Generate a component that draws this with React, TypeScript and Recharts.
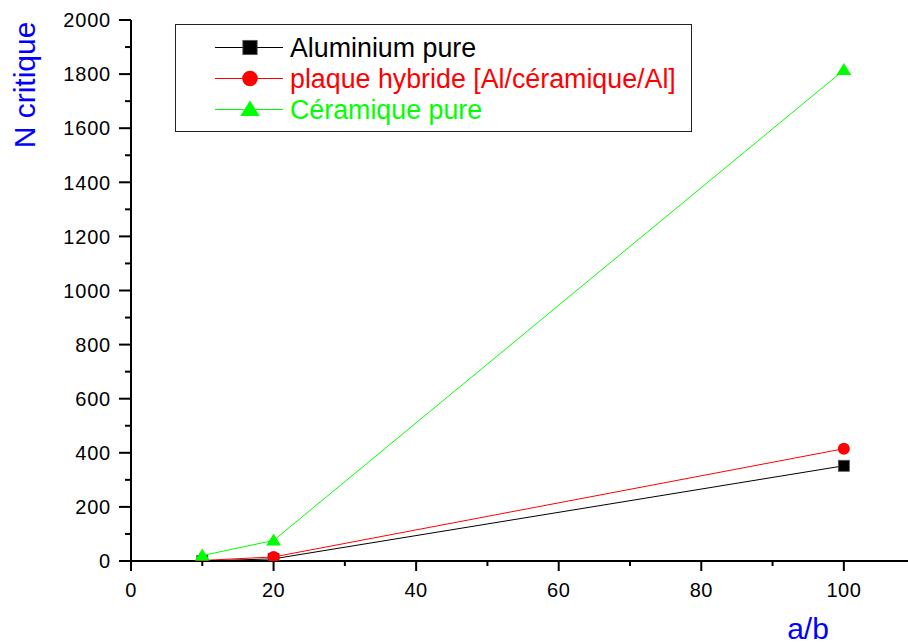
import React from "react";
import { LineChart, Line, XAxis, YAxis, Legend } from "recharts";

// a/b ratios and critical load for each plate type
const ratios = [10, 20, 100];
const aluminium = [0, 8, 352];
const hybride = [2, 15, 415];
const ceramique = [20, 76, 1815];

const xTicks = [0, 10, 20, 30, 40, 50, 60, 70, 80, 90, 100];
const yTicks = [0, 100, 200, 300, 400, 500, 600, 700, 800, 900, 1000, 1100, 1200, 1300, 1400, 1500, 1600, 1700, 1800, 1900, 2000];

const data = ratios.map((r, i) => ({
  ab: r,
  alu: aluminium[i],
  hyb: hybride[i],
  cer: ceramique[i],
}));

const FONT = "Arial, 'Liberation Sans', sans-serif";

const series = [
  { key: "alu", name: "Aluminium pure", color: "#000000", shape: "square" },
  { key: "hyb", name: "plaque hybride [Al/céramique/Al]", color: "#ff0000", shape: "circle" },
  { key: "cer", name: "Céramique pure", color: "#00ff00", shape: "triangle" },
];

// marker drawn at (cx, cy), k scales it
const Marker = ({ cx, cy, shape, color, k = 1 }: { cx: number; cy: number; shape: string; color: string; k?: number }) => {
  if (shape === "square")
    return <rect x={cx - 5.5 * k} y={cy - 5.5 * k} width={11 * k} height={11 * k} fill={color} stroke="#555" strokeWidth={0.8} />;
  if (shape === "circle") return <circle cx={cx} cy={cy} r={6 * k} fill={color} />;
  return (
    <polygon
      points={`${cx},${cy - 7 * k} ${cx + 7.5 * k},${cy + 5 * k} ${cx - 7.5 * k},${cy + 5 * k}`}
      fill={color}
    />
  );
};

const makeDot = (shape: string, color: string) => (props: any) => {
  const { cx, cy, index } = props;
  if (cx == null || cy == null) return <g key={index} />;
  return <Marker key={index} cx={cx} cy={cy} shape={shape} color={color} />;
};

const XTick = (props: any) => {
  const { x, y, payload } = props;
  const major = payload.value % 20 === 0;
  return (
    <g>
      <line x1={x} y1={y} x2={x} y2={y + (major ? 10 : 5)} stroke="#000" strokeWidth={2} />
      {major && (
        <text x={x} y={y + 36} textAnchor="middle" fontSize={20} fontFamily={FONT} fill="#000" letterSpacing={0.5}>
          {payload.value}
        </text>
      )}
    </g>
  );
};

const YTick = (props: any) => {
  const { x, y, payload } = props;
  const major = payload.value % 200 === 0;
  return (
    <g>
      <line x1={x} y1={y} x2={x - (major ? 12 : 6)} y2={y} stroke="#000" strokeWidth={2} />
      {major && (
        <text x={x - 20} y={y + 7.2} textAnchor="end" fontSize={20} fontFamily={FONT} fill="#000" letterSpacing={0.8}>
          {payload.value}
        </text>
      )}
    </g>
  );
};

const LegendBox = () => (
  <div
    style={{
      border: "1.5px solid #222",
      width: 517,
      height: 108,
      boxSizing: "border-box",
      background: "#fff",
    }}
  >
    <svg width={514} height={105} style={{ display: "block" }}>
      {series.map((s, i) => {
        const cy = 22.5 + i * 31;
        return (
          <g key={s.key}>
            <line x1={39} y1={cy} x2={107} y2={cy} stroke={s.color} strokeWidth={1} />
            <Marker cx={74} cy={cy} shape={s.shape} color={s.color} k={1.3} />
            <text x={114} y={cy + 9.5} fontSize={26.8} fontFamily={FONT} fill={s.color}>
              {s.name}
            </text>
          </g>
        );
      })}
    </svg>
  </div>
);

export default function App() {
  return (
    <div style={{ position: "absolute", left: 0, top: 0, width: 908, height: 644, background: "#fff" }}>
      <LineChart width={908} height={644} data={data} margin={{ top: 20, right: 0, bottom: 53, left: 71 }}>
        <XAxis
          dataKey="ab"
          type="number"
          domain={[0, 109]}
          ticks={xTicks}
          interval={0}
          tickSize={0}
          tickMargin={0}
          tickLine={false}
          tick={<XTick />}
          axisLine={{ stroke: "#000", strokeWidth: 2 }}
          label={{
            content: () => (
              <text x={808} y={639} textAnchor="middle" fontSize={30} fontFamily={FONT} fill="#0000ff">
                a/b
              </text>
            ),
          }}
        />
        <YAxis
          type="number"
          domain={[0, 2000]}
          allowDataOverflow
          ticks={yTicks}
          interval={0}
          width={60}
          tickSize={0}
          tickMargin={0}
          tickLine={false}
          tick={<YTick />}
          axisLine={{ stroke: "#000", strokeWidth: 2 }}
          label={{
            content: () => (
              <text
                x={35}
                y={85}
                transform="rotate(-90, 35, 85)"
                textAnchor="middle"
                fontSize={30}
                fontFamily={FONT}
                fill="#0000ff"
              >
                N critique
              </text>
            ),
          }}
        />
        <Legend
          layout="vertical"
          align="center"
          verticalAlign="middle"
          wrapperStyle={{ position: "absolute", left: 175, top: 24, width: 517, height: 108 }}
          content={() => <LegendBox />}
        />
        {series.map((s) => (
          <Line
            key={s.key}
            type="linear"
            dataKey={s.key}
            name={s.name}
            stroke={s.color}
            strokeWidth={1}
            dot={makeDot(s.shape, s.color)}
            activeDot={false}
            isAnimationActive={false}
          />
        ))}
      </LineChart>
    </div>
  );
}
